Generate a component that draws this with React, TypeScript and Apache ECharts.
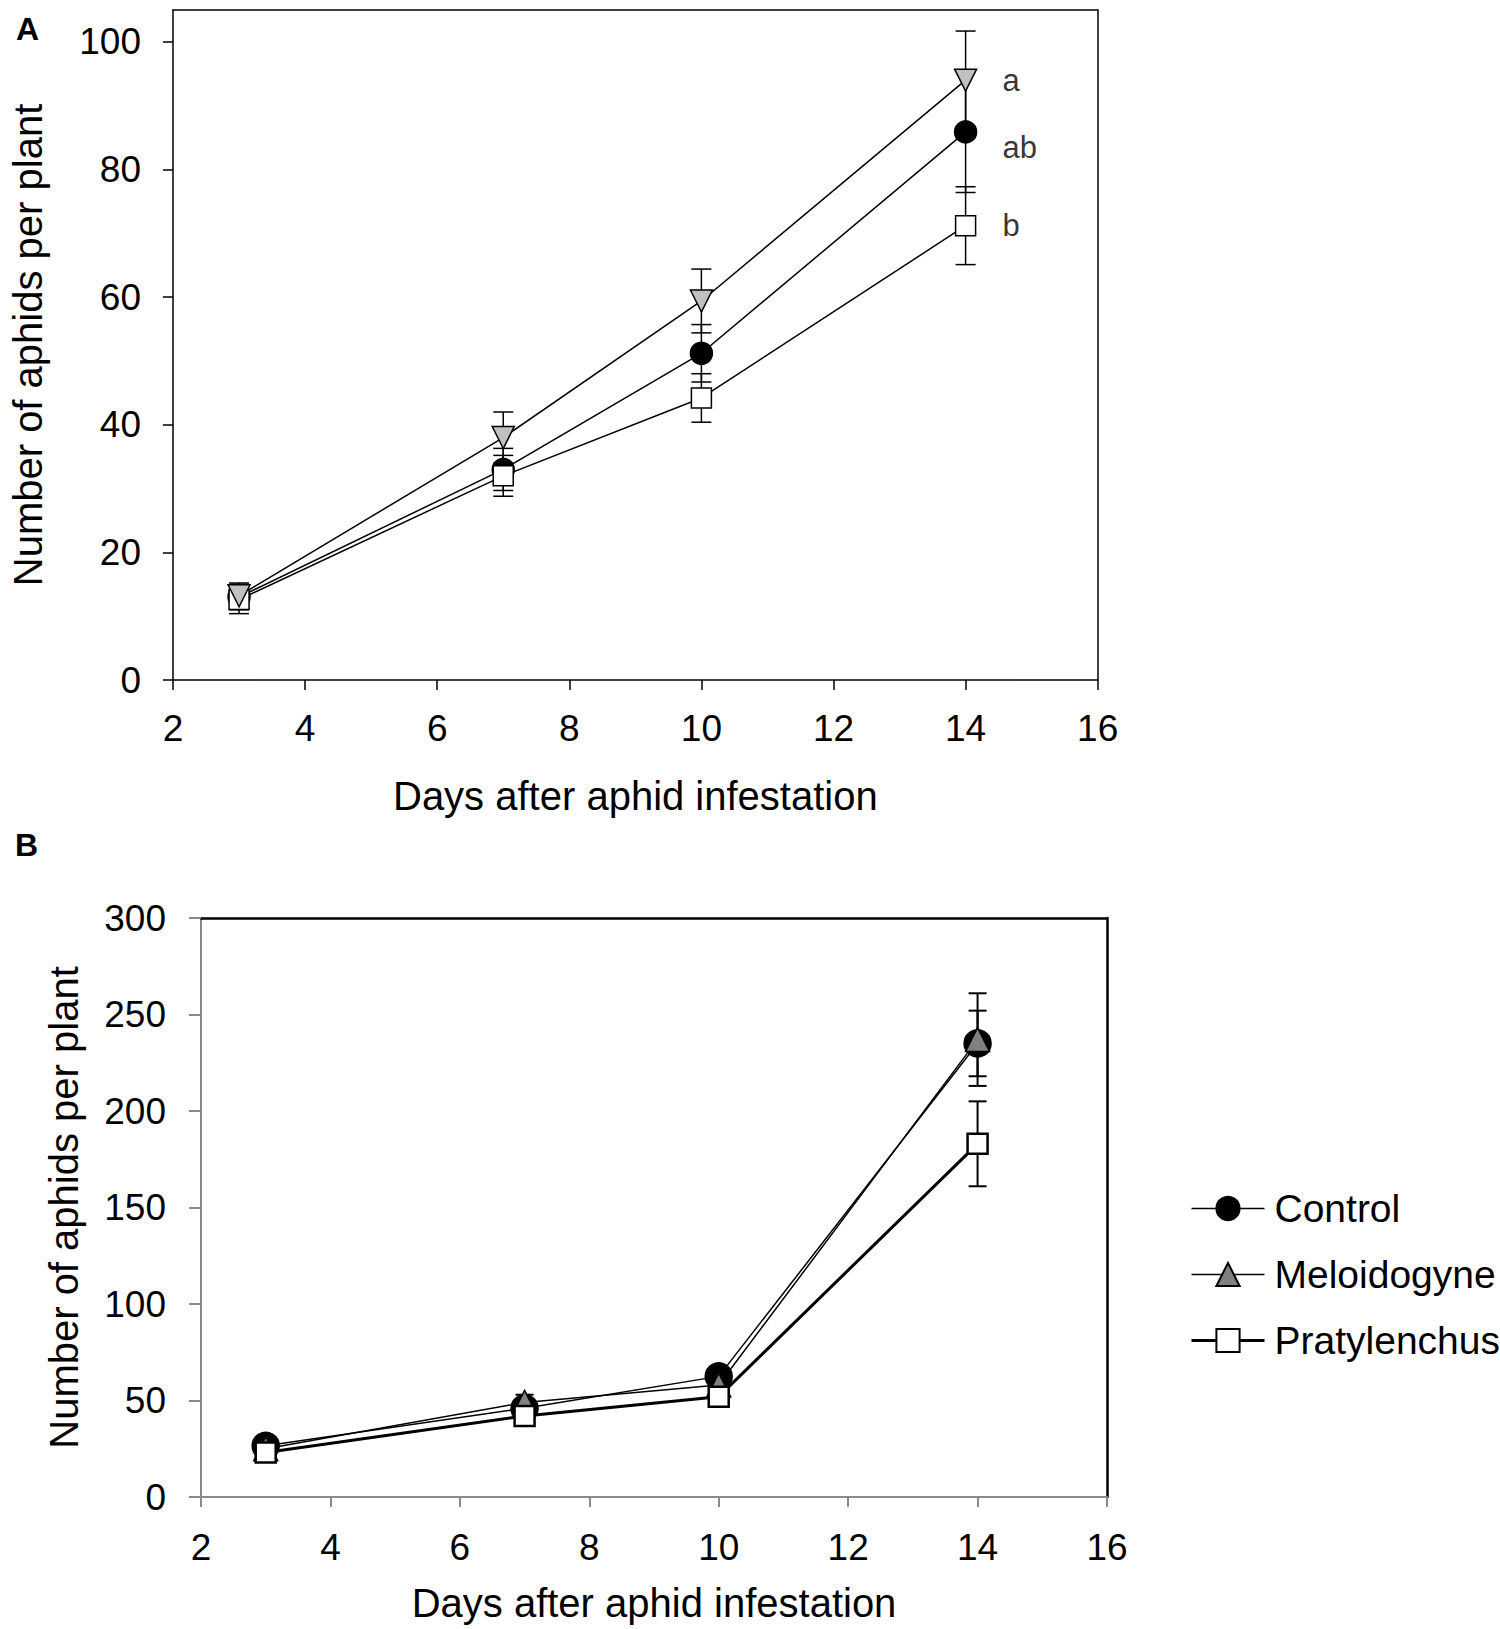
import React, { useEffect, useRef } from "react";
import * as echarts from "echarts";

const FONT = "'Liberation Sans', Arial, Helvetica, sans-serif";

const days = [3, 7, 10, 14];
const seriesNames = ["Control", "Meloidogyne", "Pratylenchus"];
const legendLineWidths = [1.5, 1.5, 3];

// Panel A
const aControl = [13.0, 33.0, 51.2, 85.9];
const aControlSE = [2.0, 3.3, 4.5, 9.5];
const aMeloidogyne = [13.2, 38.0, 59.4, 94.0];
const aMeloidogyneSE = [2.0, 4.0, 5.0, 7.7];
const aPratylenchus = [12.6, 32.0, 44.2, 71.2];
const aPratylenchusSE = [2.2, 3.2, 3.8, 6.1];
const aLetters = [
  [14, 94.0, "a"],
  [14, 83.5, "ab"],
  [14, 71.2, "b"],
];
const aYTicks = [0, 20, 40, 60, 80, 100];

// Panel B
const bControl = [26.5, 46.0, 62.5, 235.0];
const bControlSE = [3, 4, 5, 17];
const bMeloidogyne = [25.0, 49.0, 58.0, 237.0];
const bMeloidogyneSE = [3, 4, 4, 24];
const bPratylenchus = [23.0, 42.0, 52.0, 183.0];
const bPratylenchusSE = [3, 3, 3, 22];

const pts = (v: number[]) => days.map((d, i) => [d, v[i]]);
const errs = (v: number[], se: number[]) => days.map((d, i) => [d, v[i] - se[i], v[i] + se[i]]);

function errorSeries(v: number[], se: number[], axis: number, lw: number, hw: number) {
  return {
    type: "custom",
    xAxisIndex: axis,
    yAxisIndex: axis,
    z: 1,
    clip: false,
    silent: true,
    data: errs(v, se),
    encode: { x: 0, y: [1, 2] },
    renderItem: (params: any, api: any) => {
      const x = api.value(0);
      const p1 = api.coord([x, api.value(1)]);
      const p2 = api.coord([x, api.value(2)]);
      const style = { stroke: "#000", lineWidth: lw };
      return {
        type: "group",
        children: [
          { type: "line", shape: { x1: p1[0], y1: p1[1], x2: p2[0], y2: p2[1] }, style },
          { type: "line", shape: { x1: p1[0] - hw, y1: p1[1], x2: p1[0] + hw, y2: p1[1] }, style },
          { type: "line", shape: { x1: p2[0] - hw, y1: p2[1], x2: p2[0] + hw, y2: p2[1] }, style },
        ],
      };
    },
  };
}

function lineSeries(name: string, v: number[], axis: number, opts: any) {
  return {
    type: "line",
    name,
    xAxisIndex: axis,
    yAxisIndex: axis,
    z: 3,
    data: pts(v),
    showAllSymbol: true,
    lineStyle: { color: "#000", width: opts.lw },
    itemStyle: { color: opts.fill, borderColor: "#000", borderWidth: opts.bw, opacity: 1 },
    symbol: opts.symbol,
    symbolSize: opts.size,
    symbolRotate: opts.rotate || 0,
    emphasis: { disabled: true },
  };
}

export default function App() {
  const ref = useRef<HTMLDivElement>(null);
  useEffect(() => {
    if (!ref.current) return;
    const chart = echarts.init(ref.current, undefined, { renderer: "svg" });
    const black = "#000";
    const gray = "#8a8a8a";
    const mkX = (grid: number, pos: string, color: string, lw: number, labels: boolean, fs: number, margin: number, name?: string, gap?: number) => ({
      type: "value",
      gridIndex: grid,
      position: pos,
      min: 2,
      max: 16,
      interval: 2,
      splitLine: { show: false },
      axisLine: { show: true, onZero: false, lineStyle: { color, width: lw } },
      axisTick: { show: labels, inside: false, length: 10, lineStyle: { color, width: lw } },
      axisLabel: { show: labels, color: black, fontSize: fs, fontFamily: FONT, margin },
      name: name || "",
      nameLocation: "middle",
      nameGap: gap || 0,
      nameTextStyle: { color: black, fontSize: 40, fontFamily: FONT },
    });
    const option: any = {
      animation: false,
      backgroundColor: "#fff",
      title: [
        { text: "A", left: 16, top: 13, padding: 0, textStyle: { fontSize: 32, fontWeight: "bold", fontFamily: FONT, color: black } },
        { text: "B", left: 15, top: 829, padding: 0, textStyle: { fontSize: 32, fontWeight: "bold", fontFamily: FONT, color: black } },
      ],
      grid: [
        { left: 161.7, top: 10, width: 936, height: 670, containLabel: false },
        { left: 201, top: 918, width: 906, height: 579, containLabel: false },
      ],
      legend: {
        orient: "vertical",
        left: 1185,
        top: 1184,
        itemWidth: 73,
        itemHeight: 29,
        itemGap: 27,
        selectedMode: false,
        data: seriesNames.map((n, i) => ({ name: n, lineStyle: { width: legendLineWidths[i], color: "#000" } })),
        textStyle: { fontSize: 39, fontFamily: FONT, color: black, padding: [0, 0, 0, 5] },
      },
      xAxis: [
        mkX(0, "bottom", black, 1.5, true, 37, 30, "Days after aphid infestation", 96),
        mkX(0, "top", black, 1.5, false, 36, 30),
        mkX(1, "bottom", gray, 2, true, 37, 32, "Days after aphid infestation", 86),
        mkX(1, "top", black, 2.5, false, 36, 30),
      ],
      yAxis: [
        {
          type: "value",
          gridIndex: 0,
          position: "left",
          min: 0,
          max: 105,
          interval: 20,
          splitLine: { show: false },
          axisLine: { show: true, lineStyle: { color: black, width: 1.5 } },
          axisTick: { show: true, length: 10, customValues: aYTicks, lineStyle: { color: black, width: 1.5 } },
          axisLabel: { color: black, fontSize: 37, fontFamily: FONT, margin: 32, customValues: aYTicks },
          name: "Number of aphids per plant",
          nameLocation: "middle",
          nameRotate: 90,
          nameGap: 125,
          nameTextStyle: { color: black, fontSize: 40, fontFamily: FONT },
        },
        {
          type: "value",
          gridIndex: 0,
          position: "right",
          min: 0,
          max: 105,
          splitLine: { show: false },
          axisLine: { show: true, lineStyle: { color: black, width: 1.5 } },
          axisTick: { show: false },
          axisLabel: { show: false },
        },
        {
          type: "value",
          gridIndex: 1,
          position: "left",
          min: 0,
          max: 300,
          interval: 50,
          splitLine: { show: false },
          axisLine: { show: true, lineStyle: { color: gray, width: 2 } },
          axisTick: { show: true, length: 12, lineStyle: { color: gray, width: 2 } },
          axisLabel: { color: black, fontSize: 37, fontFamily: FONT, margin: 35 },
          name: "Number of aphids per plant",
          nameLocation: "middle",
          nameRotate: 90,
          nameGap: 117,
          nameTextStyle: { color: black, fontSize: 40, fontFamily: FONT },
        },
        {
          type: "value",
          gridIndex: 1,
          position: "right",
          min: 0,
          max: 300,
          splitLine: { show: false },
          axisLine: { show: true, lineStyle: { color: black, width: 2.5 } },
          axisTick: { show: false },
          axisLabel: { show: false },
        },
      ],
      series: [
        // Panel B (first so legend picks these styles)
        errorSeries(bControl, bControlSE, 2, 2, 9),
        errorSeries(bMeloidogyne, bMeloidogyneSE, 2, 2, 9),
        errorSeries(bPratylenchus, bPratylenchusSE, 2, 2, 9),
        lineSeries("Control", bControl, 2, { lw: 1.5, fill: "#000", bw: 1.5, symbol: "circle", size: 27 }),
        lineSeries("Meloidogyne", bMeloidogyne, 2, { lw: 1.5, fill: "#808080", bw: 1.5, symbol: "triangle", size: 24 }),
        lineSeries("Pratylenchus", bPratylenchus, 2, { lw: 3, fill: "#fff", bw: 2.5, symbol: "rect", size: 20 }),
        // Panel A
        errorSeries(aControl, aControlSE, 0, 1.5, 10),
        errorSeries(aMeloidogyne, aMeloidogyneSE, 0, 1.5, 10),
        errorSeries(aPratylenchus, aPratylenchusSE, 0, 1.5, 10),
        lineSeries("Control", aControl, 0, { lw: 1.5, fill: "#000", bw: 1.5, symbol: "circle", size: 22 }),
        lineSeries("Pratylenchus", aPratylenchus, 0, { lw: 1.5, fill: "#fff", bw: 1.5, symbol: "rect", size: 20 }),
        lineSeries("Meloidogyne", aMeloidogyne, 0, { lw: 1.5, fill: "#c0c0c0", bw: 1.5, symbol: "triangle", size: 22, rotate: 180 }),
        {
          type: "scatter",
          xAxisIndex: 0,
          yAxisIndex: 0,
          symbolSize: 2,
          itemStyle: { color: "rgba(0,0,0,0)" },
          silent: true,
          z: 4,
          data: aLetters.map((l) => ({ value: [l[0], l[1]], name: l[2] })),
          label: {
            show: true,
            position: "right",
            distance: 36,
            formatter: (p: any) => p.name,
            color: black,
            fontSize: 31,
            fontFamily: FONT,
          },
          labelLayout: { hideOverlap: false },
        },
      ],
    };
    chart.setOption(option);
    return () => chart.dispose();
  }, []);
  return <div ref={ref} style={{ position: "absolute", left: 0, top: 0, width: 1500, height: 1629, background: "#fff" }} />;
}
